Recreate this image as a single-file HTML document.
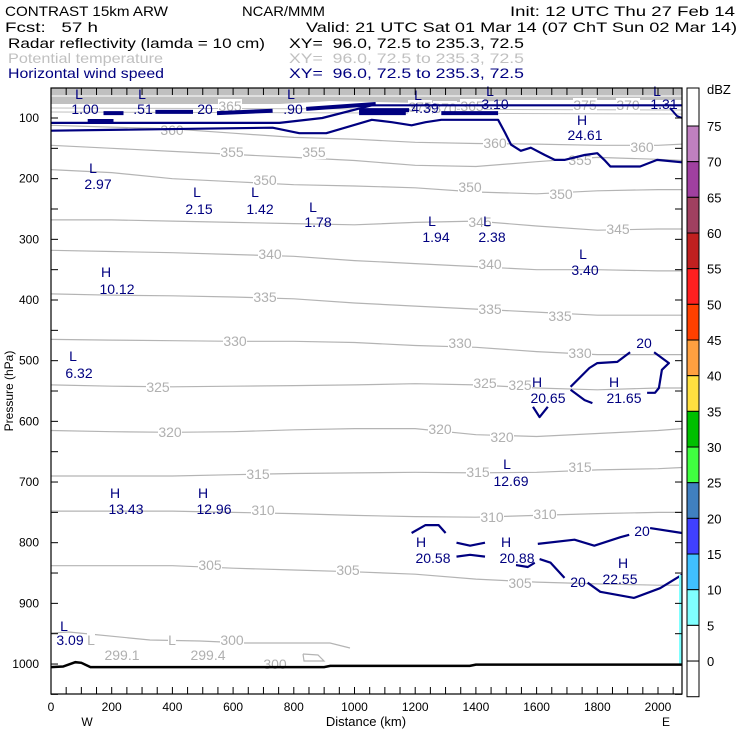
<!DOCTYPE html>
<html><head><meta charset="utf-8"><style>
html,body{margin:0;padding:0;background:#fff;}
svg{display:block;font-family:"Liberation Sans",sans-serif;}
</style></head><body>
<svg id="chart" width="740" height="740" viewBox="0 0 740 740" xmlns="http://www.w3.org/2000/svg">
<g font-size="14">
<text x="5" y="16" textLength="163" lengthAdjust="spacingAndGlyphs">CONTRAST 15km ARW</text>
<text x="242" y="16" textLength="83" lengthAdjust="spacingAndGlyphs">NCAR/MMM</text>
<text x="510" y="16" textLength="225" lengthAdjust="spacingAndGlyphs">Init: 12 UTC Thu 27 Feb 14</text>
<text x="5" y="32" xml:space="preserve" textLength="93" lengthAdjust="spacingAndGlyphs">Fcst:   57 h</text>
<text x="306" y="32" textLength="431" lengthAdjust="spacingAndGlyphs">Valid: 21 UTC Sat 01 Mar 14 (07 ChT Sun 02 Mar 14)</text>
<text x="8" y="48" textLength="257" lengthAdjust="spacingAndGlyphs">Radar reflectivity (lamda = 10 cm)</text>
<text x="289" y="48" xml:space="preserve" textLength="235" lengthAdjust="spacingAndGlyphs">XY=  96.0, 72.5 to 235.3, 72.5</text>
<text x="8" y="63" fill="#c0c0c0" textLength="155" lengthAdjust="spacingAndGlyphs">Potential temperature</text>
<text x="289" y="63" fill="#c0c0c0" xml:space="preserve" textLength="235" lengthAdjust="spacingAndGlyphs">XY=  96.0, 72.5 to 235.3, 72.5</text>
<text x="8" y="78" fill="#000080" textLength="156" lengthAdjust="spacingAndGlyphs">Horizontal wind speed</text>
<text x="289" y="78" fill="#000080" xml:space="preserve" textLength="235" lengthAdjust="spacingAndGlyphs">XY=  96.0, 72.5 to 235.3, 72.5</text>
</g>
<g id="plot"></g>
</svg>
<script>
// ---- data ----
const xTicksLabels = [0,200,400,600,800,1000,1200,1400,1600,1800,2000];
const yTickLabels = [100,200,300,400,500,600,700,800,900,1000];
const thetaKm = [0,200,400,600,800,1000,1200,1400,1600,1800,2000,2080];
const thetaLevels = [360,355,350,345,340,335,330,325,320,315,310,305];
const theta360 = [112,115,118,125,132,135,140,142,143,145,145,143];
const theta355 = [145,150,155,160,165,170,178,180,172,165,168,170];
const theta350 = [185,190,200,205,210,212,215,222,225,220,218,218];
const theta345 = [268,268,270,272,274,276,272,270,278,285,283,283];
const theta340 = [318,320,322,325,328,335,340,345,350,350,352,352];
const theta335 = [390,392,393,395,398,405,410,415,420,425,425,425];
const theta330 = [465,466,467,468,468,470,475,478,485,490,490,490];
const theta325 = [540,542,543,542,541,540,538,540,545,548,545,545];
const theta320 = [615,617,618,617,614,612,612,622,625,620,615,612];
const theta315 = [690,690,690,688,686,685,684,685,684,680,678,676];
const theta310 = [748,748,748,750,752,755,757,758,755,752,750,750];
const theta305 = [838,838,838,842,845,848,852,860,865,868,870,870];
// wind-speed 20 m/s contours: [km, hPa]
const windTopLower = [[0,121],[730,116],[818,125],[907,125],[1057,103],[1123,107],[1188,112],[1234,107],[1286,103],[1473,103],[1496,124],[1516,144],[1548,154],[1581,149],[1627,161],[1660,169],[1692,169],[1758,161],[1800,158],[1823,169],[1843,180],[1941,180],[1997,169],[2079,173]];
const windTopUpper = [[0,108],[753,108],[894,100],[1057,79],[1450,79],[1700,79],[2079,79]];
const windTopBars = [[[173,92],[239,92]],[[121,105],[206,105]],[[344,90],[468,90]],[[547,92],[730,88]],[[841,85],[1070,77]],[[1015,92],[1169,92]],[[1286,92],[1473,92]],[[1015,87],[1180,87]]];
const windMidV = [[1588,576],[1610,593],[1637,576]];
const windMidA = [[1712,543],[1774,512],[1800,504],[1866,502],[1908,486]];
const windMidB = [[1987,486],[2036,504],[2013,515],[2003,545],[1990,553],[1964,553]];
const windMidC = [[1712,548],[1758,565],[1784,570]];
const windLowArc = [[1188,784],[1234,771],[1277,771],[1300,784]];
const windLowSeg1 = [[1336,800],[1381,805],[1430,800]];
const windLowSeg2 = [[1336,823],[1381,820],[1430,823]];
const windLowSmall = [[1532,837],[1571,840],[1594,833]];
const windLowL1a = [[1604,802],[1725,795],[1790,805],[1876,791],[1905,787]];
const windLowL1b = [[1974,776],[2079,784]];
const windLowL2a = [[1610,827],[1646,833],[1692,858]];
const windLowL2b = [[1768,866],[1810,881],[1921,891],[2007,875],[2079,853]];
const surfaceKm = [0,40,80,100,130,900,920,1380,1400,2079];
const surfaceP = [1005,1004,997,998,1005,1005,1003,1003,1001,1001];
const dbzLevels = [75,70,65,60,55,50,45,40,35,30,25,20,15,10,5,0];
const dbzColors = ["#c080c0","#a040a0","#a04060","#c02020","#ff2020","#ff4000","#ffa040","#ffe040","#00c000","#40ff40","#4080c0","#4040ff","#40c0ff","#80ffff","#ffffff","#ffffff"];

// ---- axes ----
const X0=51, XR=682, YT=88, YB=694;
const x = km => X0 + km*0.3035;
const y = p => 118 + (p-100)*0.6067;
const NS="http://www.w3.org/2000/svg";
const plot=document.getElementById('plot');
function mk(tag,attrs,parent){const e=document.createElementNS(NS,tag);for(const k in attrs)e.setAttribute(k,attrs[k]);(parent||plot).appendChild(e);return e;}
function pts(arr){return arr.map(d=>x(d[0]).toFixed(1)+','+y(d[1]).toFixed(1)).join(' ');}

// top gray band
let e=mk('rect',{x:X0,y:YT,width:XR-X0,height:12,fill:'#c0c0c0'});


e=mk('polygon',{points:`${X0},100 ${X0},104 280,104 330,101 420,103 500,101 520,97 560,96 ${XR},97 ${XR},100`,fill:'#c0c0c0'});


[[96,'#fff'],[108,'#c0c0c0'],[112,'#c0c0c0']].forEach(([yy,c],i)=>{
 const l=mk('line',{x1:X0,y1:yy,x2:XR,y2:yy+(i?2:0),stroke:c,'stroke-width':1});
 
 
});

// theta contours
const thetaSeries=[theta360,theta355,theta350,theta345,theta340,theta335,theta330,theta325,theta320,theta315,theta310,theta305];
thetaSeries.forEach((s,i)=>{
 const pl=mk('polyline',{points:pts(thetaKm.map((k,j)=>[k,s[j]])),fill:'none',stroke:'#b4b4b4','stroke-width':1.2});
 
 
});
e=mk('polyline',{points:`${X0},633 ${X0+18},632 150,640 200,641 245,643 330,643 350,648`,fill:'none',stroke:'#b4b4b4','stroke-width':1.2});


e=mk('polyline',{points:'303,654 318,655 324,661 304,661 303,654',fill:'none',stroke:'#b4b4b4','stroke-width':1.2});



// theta labels (pixel placed annotations)
const thetaLabelText=[["365",230,106],["360",172,130],["375",420,107],["370",445,108],["365",472,106],["375",585,105],["370",628,105],["360",495,143],["360",642,147],["355",232,152],["355",314,152],["355",580,160],["350",265,180],["350",470,187],["350",561,194],["345",480,222],["345",618,229],["340",270,254],["340",490,264],["335",265,297],["335",490,309],["335",560,316],["330",235,341],["330",460,343],["330",580,353],["325",158,387],["325",485,383],["325",520,385],["320",170,432],["320",440,429],["320",502,437],["315",258,474],["315",478,472],["315",580,467],["310",263,510],["310",492,517],["310",545,514],["305",210,565],["305",348,570],["305",520,583],["300",232,640],["300",275,664],["299.1",122,655],["299.4",208,655],["L",91,640],["L",172,640]];
thetaLabelText.forEach(([t,cx,cy])=>{
 const w=t.length*8;
 const r=mk('rect',{x:cx-w/2,y:cy-7,width:w,height:14,fill:'#fff'});
 
 
 const tx=mk('text',{x:cx,y:cy+5,'text-anchor':'middle','font-size':14,fill:'#b0b0b0'});
 tx.textContent=t;
 
 
});

// wind contours
[windTopLower,windTopUpper,windMidV,windMidA,windMidB,windMidC,windLowArc,windLowSeg1,windLowSeg2,windLowSmall,windLowL1a,windLowL1b,windLowL2a,windLowL2b].forEach(s=>{
 const pl=mk('polyline',{points:pts(s),fill:'none',stroke:'#000080','stroke-width':2.2,'stroke-linejoin':'round'});
 
 
});
windTopBars.forEach(s=>{
 const pl=mk('polyline',{points:pts(s),fill:'none',stroke:'#000080','stroke-width':4});
 
 
});
e=mk('polyline',{points:'670,108 677,116 682,118',fill:'none',stroke:'#000080','stroke-width':2});



// wind labels
const windLabels=[["L",79,94],["1.00",85,109],["L",142,94],[".51",143,109],["20",205,109],["L",291,94],[".90",293,109],["L",418,95],["4.39",425,108],["L",490,91],["3.10",495,104],["L",657,91],["1.31",664,104],["H",582,120],["24.61",585,135],["L",93,168],["2.97",98,184],["L",197,192],["2.15",199,209],["L",255,192],["1.42",260,209],["L",313,207],["1.78",318,222],["L",432,221],["1.94",436,237],["L",487,221],["2.38",492,237],["L",583,254],["3.40",585,270],["H",106,272],["10.12",117,289],["L",73,356],["6.32",79,373],["20",644,343],["H",537,382],["20.65",548,398],["H",614,382],["21.65",624,398],["L",507,464],["12.69",511,481],["H",115,493],["13.43",126,509],["H",203,493],["12.96",214,509],["H",421,542],["20.58",433,558],["H",506,542],["20.88",517,558],["20",642,531],["20",578,582],["H",623,563],["22.55",620,579],["L",64,626],["3.09",70,640]];
windLabels.forEach(([t,cx,cy])=>{
 const tx=mk('text',{x:cx,y:cy+5,'text-anchor':'middle','font-size':14,fill:'#000080'});
 tx.textContent=t;
 
 
});

// reflectivity strip at right edge
e=mk('rect',{x:679,y:575,width:3,height:90,fill:'#80ffff'});



// surface
e=mk('polyline',{points:pts(surfaceKm.map((k,i)=>[k,surfaceP[i]])),fill:'none',stroke:'#000','stroke-width':2.5});



// frame
e=mk('rect',{x:X0,y:YT,width:XR-X0,height:YB-YT,fill:'none',stroke:'#000','stroke-width':1.2});



// ticks
for(let k=0;k<=2050;k+=50){
 const t1=mk('line',{x1:x(k),y1:YB,x2:x(k),y2:YB-7,stroke:'#000'});
 
 
 const t2=mk('line',{x1:x(k),y1:YT,x2:x(k),y2:YT+7,stroke:'#000'});
 
 
}
xTicksLabels.forEach(k=>{
 const tx=mk('text',{x:x(k),y:711,'text-anchor':'middle','font-size':12});
 tx.textContent=k;
 
 
});
for(let p=100;p<=1050;p+=50){
 const t1=mk('line',{x1:X0,y1:y(p),x2:X0+7,y2:y(p),stroke:'#000'});
 
 
 const t2=mk('line',{x1:XR,y1:y(p),x2:XR-7,y2:y(p),stroke:'#000'});
 
 
}
yTickLabels.forEach(p=>{
 const tx=mk('text',{x:39,y:y(p)+4,'text-anchor':'end','font-size':12});
 tx.textContent=p;
 
 
});
e=mk('text',{x:0,y:0,'font-size':12,'text-anchor':'middle',transform:`translate(13,${(YT+YB)/2}) rotate(-90)`});
e.textContent='Pressure (hPa)';


e=mk('text',{x:366,y:726,'font-size':13,'text-anchor':'middle'});
e.textContent='Distance (km)';


e=mk('text',{x:87,y:726,'font-size':12,'text-anchor':'middle'});
e.textContent='W';


e=mk('text',{x:666,y:726,'font-size':12,'text-anchor':'middle'});
e.textContent='E';



// colorbar
const CB0=126, CBS=35.67, CBX=687, CBW=12;
e=mk('rect',{x:CBX,y:YT,width:CBW,height:YB-YT,fill:'#fff',stroke:'#000','stroke-width':1});


dbzColors.forEach((c,i)=>{
 const r=mk('rect',{x:CBX,y:CB0+i*CBS,width:CBW,height:CBS,fill:c,stroke:'#000','stroke-width':1});
 
 
});
e=mk('rect',{x:CBX,y:YT,width:CBW,height:CB0-YT,fill:'#fff',stroke:'#000','stroke-width':1});


dbzLevels.forEach((v,i)=>{
 const tx=mk('text',{x:707,y:CB0+i*CBS+5,'font-size':13});
 tx.textContent=v;
 
 
});
e=mk('text',{x:707,y:94,'font-size':13});
e.textContent='dBZ';


</script>
</body></html>
